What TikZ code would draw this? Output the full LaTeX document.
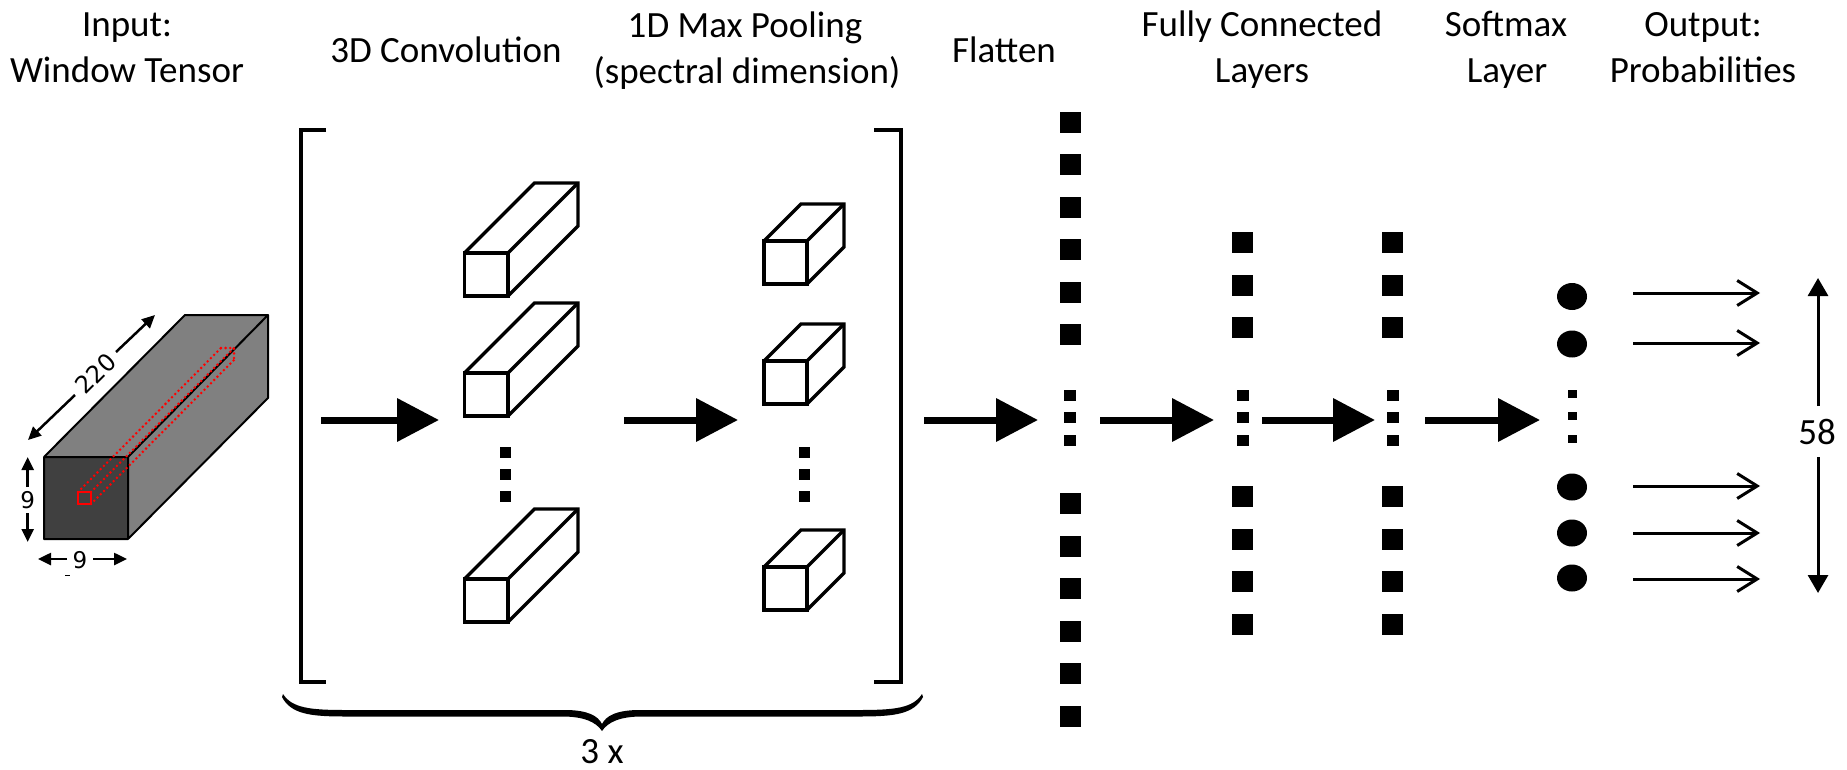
\documentclass[tikz,border=0pt]{standalone}
\usepackage{fontspec}
\setmainfont{Carlito}
\newfontfamily\dimfont{DejaVu Sans}
\usetikzlibrary{arrows.meta,shapes.geometric}
\newcommand{\mycuboid}[5]{%
  \draw[boxline] (#1,#2) rectangle ++(#3,#4);
  \draw[boxline] (#1,#2) -- ++(#5,-#5) -- ++(#3,0) -- ++(0,#4) -- ++(-#5,#5);
  \draw[boxline] (#1+#3,#2) -- ++(#5,-#5);
}
\begin{document}
\begin{tikzpicture}[x=1pt,y=-1pt,
  lbl/.style={font=\fontsize{37}{44}\selectfont, anchor=base, inner sep=0pt},
  dimlbl/.style={font=\dimfont\fontsize{23}{26}\selectfont, inner sep=0pt},
  sq/.style={fill=black, inner sep=0pt, minimum width=21pt, minimum height=21pt},
  dotsq/.style={fill=black, inner sep=0pt, minimum width=11pt, minimum height=11pt},
  smdot/.style={fill=black, inner sep=0pt, minimum width=9pt, minimum height=8pt},
  neuron/.style={ellipse, fill=black, inner sep=0pt, minimum width=30pt, minimum height=27pt},
  bigarrow/.style={line width=7pt, -{Triangle[length=42pt,width=42pt]}},
  outarrow/.style={line width=3pt, -{Straight Barb[length=20pt,width=25pt]}},
  dimarrow/.style={line width=2.5pt, -{Triangle[length=13pt,width=12pt]}},
  rangearrow/.style={line width=3pt, -{Triangle[length=18pt,width=20pt]}},
  boxline/.style={line width=3.3pt, line join=miter},
  bracket/.style={line width=4pt},
  reddot/.style={red, line width=2.8pt, dash pattern=on 0pt off 4.6pt, line cap=round},
]
\useasboundingbox (0,0) rectangle (1847,770);

% ---------- titles ----------
\node[lbl] (t-in1) at (127,37) {Input:};
\node[lbl] (t-in2) at (127,83) {Window Tensor};
\node[lbl] (t-conv) at (446,63) {3D Convolution};
\node[lbl] (t-pool1) at (745,38) {1D Max Pooling};
\node[lbl] (t-pool2) at (747,84) {(spectral dimension)};
\node[lbl] (t-flat) at (1004,63) {Flatten};
\node[lbl] (t-fc1) at (1262,37) {Fully Connected};
\node[lbl] (t-fc2) at (1262,83) {Layers};
\node[lbl] (t-sm1) at (1506,37) {Softmax};
\node[lbl] (t-sm2) at (1507,83) {Layer};
\node[lbl] (t-out1) at (1703,37) {Output:};
\node[lbl] (t-out2) at (1703,83) {Probabilities};

% ---------- input tensor ----------
\fill[black!50] (44,457) -- (185,315) -- (268,315) -- (128,457) -- cycle;
\fill[black!50] (128,457) -- (268,315) -- (268,398) -- (128,539) -- cycle;
\fill[black!75] (44,457) rectangle (128,539);
\draw[line width=2pt, line join=round] (44,457) rectangle (128,539)
  (44,457) -- (185,315) -- (268,315) -- (128,457)
  (268,315) -- (268,398) -- (128,539);
% red window and its dotted tube
\draw[reddot] (78,492) -- ++(143,-144);
\draw[reddot] (91,492) -- ++(143,-144);
\draw[reddot] (91,504) -- ++(143,-144);
\draw[reddot] (221,348) -- (234,348) -- (234,360);
\draw[red, line width=2.5pt] (78,492) rectangle (91,504);
% dimensions
\coordinate (d220a) at (75,395);
\coordinate (d220b) at (28,440);
\coordinate (d220c) at (116,352);
\coordinate (d220d) at (155,315);
\draw[dimarrow] (d220a) -- (d220b);
\draw[dimarrow] (d220c) -- (d220d);
\node[dimlbl, font=\dimfont\fontsize{24}{26}\selectfont, rotate=45] (l220) at (95.5,373.5) {220};
\coordinate (dva) at (27.7,487);
\coordinate (dvb) at (27.7,457);
\coordinate (dvc) at (27.7,513);
\coordinate (dvd) at (27.7,542);
\draw[dimarrow] (dva) -- (dvb);
\draw[dimarrow] (dvc) -- (dvd);
\node[dimlbl] (l9v) at (27.7,500) {9};
\coordinate (dha) at (67,559);
\coordinate (dhb) at (38,559);
\coordinate (dhc) at (93,559);
\coordinate (dhd) at (127,559);
\draw[dimarrow] (dha) -- (dhb);
\draw[dimarrow] (dhc) -- (dhd);
\node[dimlbl] (l9h) at (80,560) {9};
\draw[line width=1.5pt] (65,575.5) -- (70,575.5);

% ---------- brackets ----------
\draw[bracket] (326,130) -- (301,130) -- (301,682) -- (326,682);
\draw[bracket] (874,130) -- (901,130) -- (901,682) -- (874,682);

% ---------- 3D conv boxes ----------
\mycuboid{464.5}{253}{43.5}{43}{70}
\mycuboid{464.5}{373}{43.5}{43}{70}
\mycuboid{464.5}{579}{43.5}{43}{70}
\node[dotsq] (cv-d1) at (505.5,452) {};
\node[dotsq] (cv-d2) at (505.5,474) {};
\node[dotsq] (cv-d3) at (505.5,496.5) {};

% ---------- pooling boxes ----------
\mycuboid{764}{241}{43}{43}{37}
\mycuboid{764}{361}{43}{43}{37}
\mycuboid{764}{567}{43}{43}{37}
\node[dotsq] (pl-d1) at (804,452) {};
\node[dotsq] (pl-d2) at (804,474) {};
\node[dotsq] (pl-d3) at (804,496.5) {};

% ---------- flatten ----------
\foreach \yy [count=\k] in {122.5,164.9,207.3,249.7,292.1,334.5}
  \node[sq] (fl-t\k) at (1070,\yy) {};
\foreach \yy [count=\k] in {503.5,546,588.5,631,673.5,716}
  \node[sq] (fl-b\k) at (1070,\yy) {};
\foreach \yy [count=\k] in {395,417.5,440}
  \node[dotsq, minimum width=12pt] (fl-d\k) at (1070,\yy) {};

% ---------- fully connected ----------
\foreach \xx/\nm in {1242.5/fa,1392.5/fb}{
  \foreach \yy [count=\k] in {242.5,285,327.5}
    \node[sq] (\nm-t\k) at (\xx,\yy) {};
  \foreach \yy [count=\k] in {496.5,539,581.5,624}
    \node[sq] (\nm-b\k) at (\xx,\yy) {};
  \foreach \yy [count=\k] in {395,417.5,440}
    \node[dotsq, minimum width=12pt] (\nm-d\k) at (\xx,\yy) {};
}

% ---------- softmax ----------
\foreach \yy [count=\k] in {296.5,344,487,533,578}
  \node[neuron] (sm\k) at (1572,\yy) {};
\foreach \yy [count=\k] in {394,416,439}
  \node[smdot] (sm-d\k) at (1572,\yy) {};

% ---------- big arrows ----------
\coordinate (a1s) at (321,420);  \coordinate (a1e) at (439,420);
\coordinate (a2s) at (624,420);  \coordinate (a2e) at (738,420);
\coordinate (a3s) at (924,420);  \coordinate (a3e) at (1038,420);
\coordinate (a4s) at (1100,420); \coordinate (a4e) at (1214,420);
\coordinate (a5s) at (1262,420); \coordinate (a5e) at (1375,420);
\coordinate (a6s) at (1425,420); \coordinate (a6e) at (1540,420);
\draw[bigarrow] (a1s) -- (a1e);
\draw[bigarrow] (a2s) -- (a2e);
\draw[bigarrow] (a3s) -- (a3e);
\draw[bigarrow] (a4s) -- (a4e);
\draw[bigarrow] (a5s) -- (a5e);
\draw[bigarrow] (a6s) -- (a6e);

% ---------- output arrows ----------
\foreach \k/\yy in {1/293,2/343,3/486,4/533,5/579}{
  \coordinate (o\k s) at (1633,\yy);
  \coordinate (o\k e) at (1760,\yy);
  \draw[outarrow] (o\k s) -- (o\k e);
}
\coordinate (r1s) at (1818,406); \coordinate (r1e) at (1818,278);
\coordinate (r2s) at (1818,457); \coordinate (r2e) at (1818,593);
\draw[rangearrow] (r1s) -- (r1e);
\draw[rangearrow] (r2s) -- (r2e);
\node[font=\fontsize{37}{44}\selectfont, inner sep=0pt] (l58) at (1817,432) {58};

% ---------- brace ----------
\fill (283,694) .. controls (292,708) and (310,710) .. (345,710) -- (565,710)
  .. controls (588,710) and (598,716) .. (602,724)
  .. controls (606,716) and (616,710) .. (640,710) -- (860,710)
  .. controls (895,710) and (913,708) .. (922,694)
  -- (923,697) .. controls (914,714) and (895,716.5) .. (860,716.5) -- (642,716.5)
  .. controls (620,716.5) and (608,722) .. (602,731)
  .. controls (596,722) and (584,716.5) .. (562,716.5) -- (345,716.5)
  .. controls (310,716.5) and (291,714) .. (282,697) -- cycle;
\node[lbl] (t-rep) at (602,763) {3 x};
\end{tikzpicture}
\end{document}
